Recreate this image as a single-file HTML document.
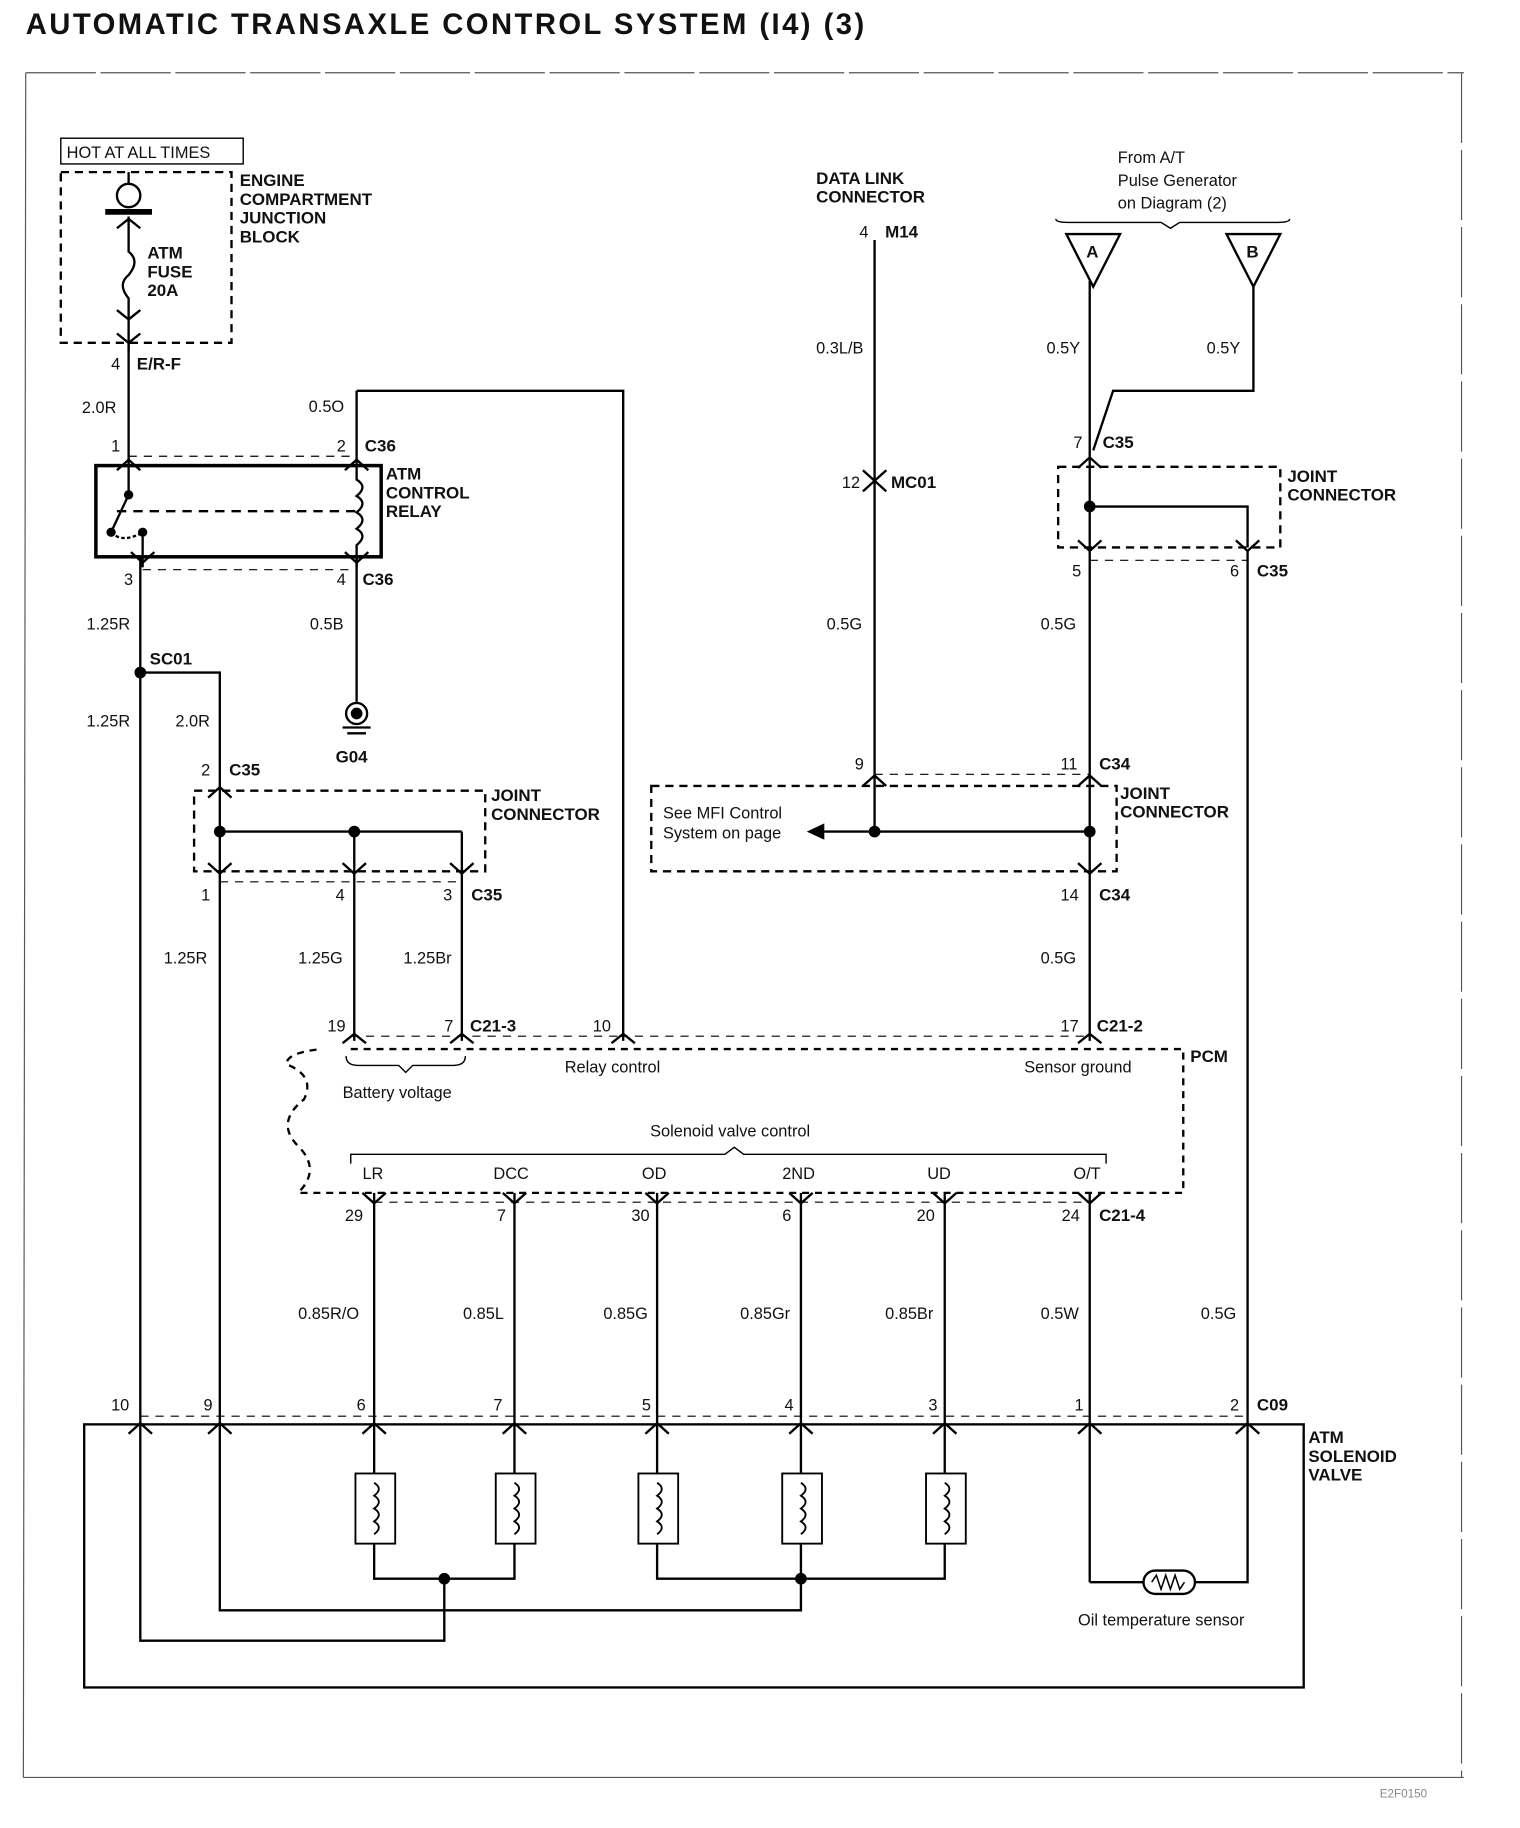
<!DOCTYPE html>
<html><head><meta charset="utf-8"><style>
html,body{margin:0;padding:0;background:#fff}
svg{display:block}
text{font-family:"Liberation Sans",Arial,sans-serif;font-size:14px;fill:#111}
.b{font-weight:bold;font-size:14.5px}
</style></head><body>
<svg width="1520" height="1828" viewBox="0 0 1300 1563" xmlns="http://www.w3.org/2000/svg">
<rect width="1300" height="1563" fill="#fff"/>
<text x="22" y="29" style="font-size:25px;font-weight:bold;letter-spacing:2.1px">AUTOMATIC TRANSAXLE CONTROL SYSTEM (I4) (3)</text>
<g stroke="#555" stroke-width="1" fill="none">
<line x1="22" y1="62" x2="1252" y2="62" stroke-dasharray="60 4"/>
<line x1="22" y1="62" x2="20" y2="1520"/>
<line x1="20" y1="1520" x2="1252" y2="1520"/>
<line x1="1250" y1="62" x2="1250" y2="1520" stroke-dasharray="60 6"/>
</g>
<g stroke="#000" fill="none" stroke-width="2">
<rect x="52" y="118" width="156" height="22" stroke-width="1.2"/>
<rect x="52" y="147" width="146" height="146" stroke-dasharray="7 5"/>
<circle cx="110" cy="167" r="10"/>
<line x1="110" y1="147" x2="110" y2="157"/>
<line x1="90" y1="181" x2="130" y2="181" stroke-width="5"/>
<path d="M110 185 V215 q10 8 0 20 q-10 8 0 20 V300"/>
<path d="M100 195 l10 -8 l10 8 M100 265 l10 8 l10 -8 M100 285 l10 8 l10 -8"/>
<line x1="110" y1="293" x2="110" y2="398"/>
<rect x="82" y="398" width="244" height="78" stroke-width="3"/>
<line x1="110" y1="390" x2="305" y2="390" stroke-dasharray="7 6" stroke-width="1"/>
<path d="M100 402 l10 -9 l10 9 M295 402 l10 -9 l10 9"/>
<line x1="110" y1="398" x2="110" y2="423"/>
<line x1="110" y1="423" x2="95" y2="455"/>
<path d="M95 455 q10 10 27 0" stroke-dasharray="3 2"/>
<line x1="122" y1="455" x2="122" y2="485"/>
<line x1="100" y1="437" x2="305" y2="437" stroke-dasharray="8 6"/>
<path d="M305 398 V410 q10 6 0 14 q10 6 0 14 q10 6 0 14 q10 6 0 14 V485"/>
<path d="M112 472 l10 9 l10 -9 M295 472 l10 9 l10 -9"/>
<line x1="122" y1="487" x2="305" y2="487" stroke-dasharray="7 6" stroke-width="1"/>
<line x1="305" y1="398" x2="305" y2="334"/>
<polyline points="305,334 533,334 533,890"/>
<line x1="120" y1="476" x2="120" y2="1215"/>
<polyline points="120,575 188,575 188,1215"/>
<line x1="305" y1="476" x2="305" y2="600"/>
<circle cx="305" cy="610" r="9"/>
<circle cx="305" cy="610" r="4" fill="#000"/>
<line x1="293" y1="622" x2="317" y2="622"/><line x1="297" y1="627" x2="313" y2="627"/>
<rect x="166" y="676" width="249" height="69" stroke-dasharray="7 5"/>
<line x1="188" y1="711" x2="395" y2="711"/>
<line x1="303" y1="711" x2="303" y2="890"/>
<line x1="395" y1="711" x2="395" y2="890"/>
<line x1="188" y1="754" x2="395" y2="754" stroke-dasharray="7 6" stroke-width="1"/>
<path d="M178 682 l10 -9 l10 9 M178 738 l10 9 l10 -9 M293 738 l10 9 l10 -9 M385 738 l10 9 l10 -9"/>
<path d="M300 897 H1012 V1020 H255 q20 -20 0 -40 q-20 -20 5 -40 q10 -20 -15 -30 q0 -10 30 -13" stroke-dasharray="6 5"/>
<line x1="300" y1="886" x2="530" y2="886" stroke-dasharray="7 6" stroke-width="1"/>
<line x1="530" y1="886" x2="932" y2="886" stroke-dasharray="7 6" stroke-width="1"/>
<path d="M293 892 l10 -8 l10 8 M385 892 l10 -8 l10 8 M523 892 l10 -8 l10 8 M922 892 l10 -8 l10 8"/>
<path d="M296 903 q0 8 10 8 h35 l6 6 l6 -6 h35 q10 0 10 -8" stroke-width="1.2"/>
<path d="M300 995 v-8 h320 l8 -6 l8 6 h310 v8" stroke-width="1.2"/>
<line x1="320" y1="1028" x2="932" y2="1028" stroke-dasharray="7 6" stroke-width="1"/>
<line x1="320" y1="1020" x2="320" y2="1260"/>
<line x1="440" y1="1020" x2="440" y2="1260"/>
<line x1="562" y1="1020" x2="562" y2="1260"/>
<line x1="685" y1="1020" x2="685" y2="1260"/>
<line x1="808" y1="1020" x2="808" y2="1260"/>
<line x1="932" y1="1020" x2="932" y2="1353"/>
<path d="M310 1020 l10 9 l10 -9 M430 1020 l10 9 l10 -9 M552 1020 l10 9 l10 -9 M675 1020 l10 9 l10 -9 M798 1020 l10 9 l10 -9 M922 1020 l10 9 l10 -9"/>
<line x1="120" y1="1211" x2="1067" y2="1211" stroke-dasharray="7 6" stroke-width="1"/>
<rect x="72" y="1218" width="1043" height="225"/>
<path d="M110 1226 l10 -9 l10 9 M178 1226 l10 -9 l10 9 M310 1226 l10 -9 l10 9 M430 1226 l10 -9 l10 9 M552 1226 l10 -9 l10 9 M675 1226 l10 -9 l10 9 M798 1226 l10 -9 l10 9 M922 1226 l10 -9 l10 9 M1057 1226 l10 -9 l10 9"/>
<g stroke-width="1.6">
<rect x="304" y="1260" width="34" height="60"/><rect x="424" y="1260" width="34" height="60"/>
<rect x="546" y="1260" width="34" height="60"/><rect x="669" y="1260" width="34" height="60"/>
<rect x="792" y="1260" width="34" height="60"/>
<path d="M320 1268 q8 5 0 11 q8 5 0 11 q8 5 0 11 q8 5 0 11 M440 1268 q8 5 0 11 q8 5 0 11 q8 5 0 11 q8 5 0 11 M562 1268 q8 5 0 11 q8 5 0 11 q8 5 0 11 q8 5 0 11 M685 1268 q8 5 0 11 q8 5 0 11 q8 5 0 11 q8 5 0 11 M808 1268 q8 5 0 11 q8 5 0 11 q8 5 0 11 q8 5 0 11"/>
</g>
<polyline points="320,1320 320,1350 440,1350 440,1320"/>
<polyline points="562,1320 562,1350 808,1350 808,1320"/>
<line x1="685" y1="1320" x2="685" y2="1350"/>
<polyline points="380,1350 380,1403 120,1403 120,1215"/>
<polyline points="685,1350 685,1377 188,1377 188,1215"/>
<polyline points="932,1353 978,1353"/>
<polyline points="1022,1353 1067,1353 1067,470"/>
<rect x="978" y="1343" width="44" height="20" rx="10"/>
<path d="M985 1353 l4 -6 l4 12 l4 -12 l4 12 l4 -12 l4 12 l4 -6" stroke-width="1.3"/>
<line x1="748" y1="205" x2="748" y2="711"/>
<path d="M738 402 l10 9 l10 -9 M738 420 l10 -9 l10 9 M738 672 l10 -9 l10 9"/>
<rect x="557" y="672" width="398" height="73" stroke-dasharray="7 5"/>
<line x1="748" y1="662" x2="932" y2="662" stroke-dasharray="7 6" stroke-width="1"/>
<line x1="705" y1="711" x2="932" y2="711"/>
<line x1="932" y1="240" x2="932" y2="890"/>
<polygon points="912,200 958,200 935,245"/>
<polygon points="1049,200 1095,200 1072,245"/>
<polyline points="1072,245 1072,334 952,334 935,385"/>
<path d="M903 187 q0 3 10 3 h80 l8 5 l8 -5 h84 q10 0 10 -3" stroke-width="1.2"/>
<rect x="905" y="399" width="190" height="69" stroke-dasharray="7 5"/>
<polyline points="932,433 1067,433 1067,468"/>
<line x1="932" y1="479" x2="1067" y2="479" stroke-dasharray="7 6" stroke-width="1"/>
<path d="M922 400 l10 -9 l10 9 M922 462 l10 9 l10 -9 M1057 462 l10 9 l10 -9 M922 672 l10 -9 l10 9 M922 738 l10 9 l10 -9"/>
</g>
<g fill="#000">
<circle cx="120" cy="575" r="5"/><circle cx="188" cy="711" r="5"/><circle cx="303" cy="711" r="5"/>
<circle cx="748" cy="711" r="5"/><circle cx="932" cy="711" r="5"/><circle cx="932" cy="433" r="5"/>
<circle cx="380" cy="1350" r="5"/><circle cx="685" cy="1350" r="5"/>
<circle cx="110" cy="423" r="4"/><circle cx="95" cy="455" r="4"/><circle cx="122" cy="455" r="4"/>
<polygon points="690,711 705,704 705,718"/>
</g>
<text x="57" y="135" style="font-size:14px">HOT AT ALL TIMES</text>
<text class="b" x="205" y="159">ENGINE</text><text class="b" x="205" y="175">COMPARTMENT</text>
<text class="b" x="205" y="191">JUNCTION</text><text class="b" x="205" y="207">BLOCK</text>
<text class="b" x="126" y="221">ATM</text><text class="b" x="126" y="237">FUSE</text><text class="b" x="126" y="253">20A</text>
<text x="95" y="316">4</text><text class="b" x="117" y="316">E/R-F</text>
<text x="70" y="353">2.0R</text><text x="264" y="352">0.5O</text>
<text x="95" y="386">1</text><text x="288" y="386">2</text><text class="b" x="312" y="386">C36</text>
<text class="b" x="330" y="410">ATM</text><text class="b" x="330" y="426">CONTROL</text><text class="b" x="330" y="442">RELAY</text>
<text x="106" y="500">3</text><text x="288" y="500">4</text><text class="b" x="310" y="500">C36</text>
<text x="74" y="538">1.25R</text><text x="265" y="538">0.5B</text>
<text class="b" x="128" y="568">SC01</text>
<text x="74" y="621">1.25R</text><text x="150" y="621">2.0R</text>
<text class="b" x="287" y="652">G04</text>
<text x="172" y="663">2</text><text class="b" x="196" y="663">C35</text>
<text class="b" x="420" y="685">JOINT</text><text class="b" x="420" y="701">CONNECTOR</text>
<text x="172" y="770">1</text><text x="287" y="770">4</text><text x="379" y="770">3</text><text class="b" x="403" y="770">C35</text>
<text x="140" y="824">1.25R</text><text x="255" y="824">1.25G</text><text x="345" y="824">1.25Br</text>
<text x="280" y="882">19</text><text x="380" y="882">7</text><text class="b" x="402" y="882">C21-3</text>
<text x="507" y="882">10</text><text x="907" y="882">17</text><text class="b" x="938" y="882">C21-2</text>
<text x="293" y="939">Battery voltage</text><text x="483" y="917">Relay control</text><text x="876" y="917">Sensor ground</text>
<text class="b" x="1018" y="908">PCM</text>
<text x="556" y="972">Solenoid valve control</text>
<text x="310" y="1008">LR</text><text x="422" y="1008">DCC</text><text x="549" y="1008">OD</text><text x="669" y="1008">2ND</text><text x="793" y="1008">UD</text><text x="918" y="1008">O/T</text>
<text x="295" y="1044">29</text><text x="425" y="1044">7</text><text x="540" y="1044">30</text><text x="669" y="1044">6</text><text x="784" y="1044">20</text><text x="908" y="1044">24</text><text class="b" x="940" y="1044">C21-4</text>
<text x="255" y="1128">0.85R/O</text><text x="396" y="1128">0.85L</text><text x="516" y="1128">0.85G</text><text x="633" y="1128">0.85Gr</text><text x="757" y="1128">0.85Br</text><text x="890" y="1128">0.5W</text><text x="1027" y="1128">0.5G</text>
<text x="95" y="1206">10</text><text x="174" y="1206">9</text><text x="305" y="1206">6</text><text x="422" y="1206">7</text><text x="549" y="1206">5</text><text x="671" y="1206">4</text><text x="794" y="1206">3</text><text x="919" y="1206">1</text><text x="1052" y="1206">2</text>
<text class="b" x="1075" y="1206">C09</text>
<text class="b" x="1119" y="1234">ATM</text><text class="b" x="1119" y="1250">SOLENOID</text><text class="b" x="1119" y="1266">VALVE</text>
<text x="922" y="1390">Oil temperature sensor</text>
<text class="b" x="698" y="157">DATA LINK</text><text class="b" x="698" y="173">CONNECTOR</text>
<text x="735" y="203">4</text><text class="b" x="757" y="203">M14</text>
<text x="698" y="302">0.3L/B</text>
<text x="720" y="417">12</text><text class="b" x="762" y="417">MC01</text>
<text x="707" y="538">0.5G</text>
<text x="731" y="658">9</text><text x="907" y="658">11</text><text class="b" x="940" y="658">C34</text>
<text x="567" y="700">See MFI Control</text><text x="567" y="717">System on page</text>
<text class="b" x="958" y="683">JOINT</text><text class="b" x="958" y="699">CONNECTOR</text>
<text x="907" y="770">14</text><text class="b" x="940" y="770">C34</text>
<text x="890" y="824">0.5G</text><text x="890" y="538">0.5G</text>
<text x="956" y="139">From A/T</text><text x="956" y="159">Pulse Generator</text><text x="956" y="178">on Diagram (2)</text>
<text class="b" x="929" y="220">A</text><text class="b" x="1066" y="220">B</text>
<text x="895" y="302">0.5Y</text><text x="1032" y="302">0.5Y</text>
<text x="918" y="383">7</text><text class="b" x="943" y="383">C35</text>
<text class="b" x="1101" y="412">JOINT</text><text class="b" x="1101" y="428">CONNECTOR</text>
<text x="917" y="493">5</text><text x="1052" y="493">6</text><text class="b" x="1075" y="493">C35</text>
<text x="1180" y="1537" style="font-size:10px;fill:#888">E2F0150</text>
</svg>
</body></html>
